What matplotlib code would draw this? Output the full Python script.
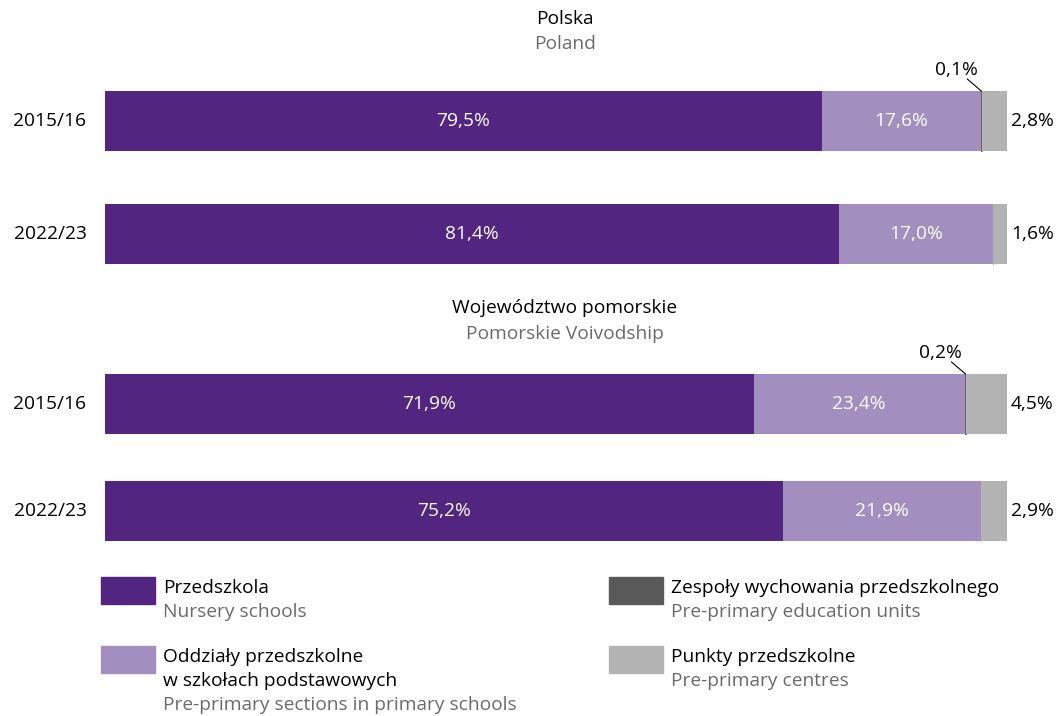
import matplotlib.pyplot as plt
import matplotlib.patches as mpatches
import numpy as np

plt.rcParams['font.family'] = ['Open Sans', 'DejaVu Sans']

years = ["2015/16", "2022/23", "2015/16", "2022/23"]
nursery = [79.5, 81.4, 71.9, 75.2]
sections = [17.6, 17.0, 23.4, 21.9]
units = [0.1, 0.0, 0.2, 0.0]
centres = [2.8, 1.6, 4.5, 2.9]

pl_names = ["Przedszkola", "Oddziały przedszkolne\nw szkołach podstawowych",
            "Zespoły wychowania przedszkolnego", "Punkty przedszkolne"]
en_names = ["Nursery schools", "Pre-primary sections in primary schools",
            "Pre-primary education units", "Pre-primary centres"]
colors = ["#522580", "#a28fc0", "#595959", "#b3b3b3"]
gray_txt = "#6b6b6b"

W, H = 1064, 716
fig = plt.figure(figsize=(W / 100, H / 100), dpi=100)

# bar axes: 0..100 % spans pixel 105..1007, y in pixel rows
ax = fig.add_axes([105 / W, 0, 902 / W, 1])
ax.set_xlim(0, 100)
ax.set_ylim(H, 0)
ax.axis("off")

rows_y = [121, 234, 404, 511]
bh = 60

left = np.zeros(4)
for vals, c in zip([nursery, sections, units, centres], colors):
    v = np.array(vals)
    ax.barh(rows_y, v, left=left, height=bh, color=c,
            edgecolor=c if c == "#595959" else "none",
            linewidth=0.6 if c == "#595959" else 0)
    left += v

fs = 13.8
def pct(v):
    return f"{v:.1f}%".replace(".", ",")

for i, y in enumerate(rows_y):
    ax.text(nursery[i] / 2, y, pct(nursery[i]),
            color="white", ha="center", va="center", fontsize=fs)
    ax.text(nursery[i] + sections[i] / 2, y, pct(sections[i]),
            color="white", ha="center", va="center", fontsize=fs)
    ax.text(100.45, y, pct(centres[i]),
            color="black", ha="left", va="center", fontsize=fs)
    if units[i] > 0:
        xu = nursery[i] + sections[i] + units[i] / 2
        ytop = y - bh / 2
        ax.plot([xu - 1.55, xu], [ytop - 12, ytop], color="black", lw=0.8)
        ax.text(xu - 2.8, ytop - 21, pct(units[i]),
                ha="center", va="center", fontsize=fs)

# overlay axes in pixel coordinates for text and legend
ov = fig.add_axes([0, 0, 1, 1])
ov.set_xlim(0, W)
ov.set_ylim(H, 0)
ov.axis("off")

for y, lab in zip(rows_y, years):
    ov.text(50, y, lab, ha="center", va="center", fontsize=fs)

ov.text(565, 24, "Polska", ha="center", va="baseline", fontsize=fs)
ov.text(565, 49, "Poland", ha="center", va="baseline", fontsize=fs, color=gray_txt)
ov.text(565, 313, "Województwo pomorskie", ha="center", va="baseline", fontsize=fs)
ov.text(565, 339, "Pomorskie Voivodship", ha="center", va="baseline", fontsize=fs, color=gray_txt)

leg_pos = [(101, 577), (101, 646), (609, 577), (609, 646)]
for (x0, y0), c, pl, en in zip(leg_pos, colors, pl_names, en_names):
    ov.add_patch(mpatches.Rectangle((x0, y0), 54, 27, color=c))
    base = y0 + 16
    for line in pl.split("\n"):
        ov.text(x0 + 62, base, line, ha="left", va="baseline", fontsize=fs)
        base += 24
    ov.text(x0 + 62, base, en, ha="left", va="baseline", fontsize=fs, color=gray_txt)

fig.savefig("out.png", dpi=100)
